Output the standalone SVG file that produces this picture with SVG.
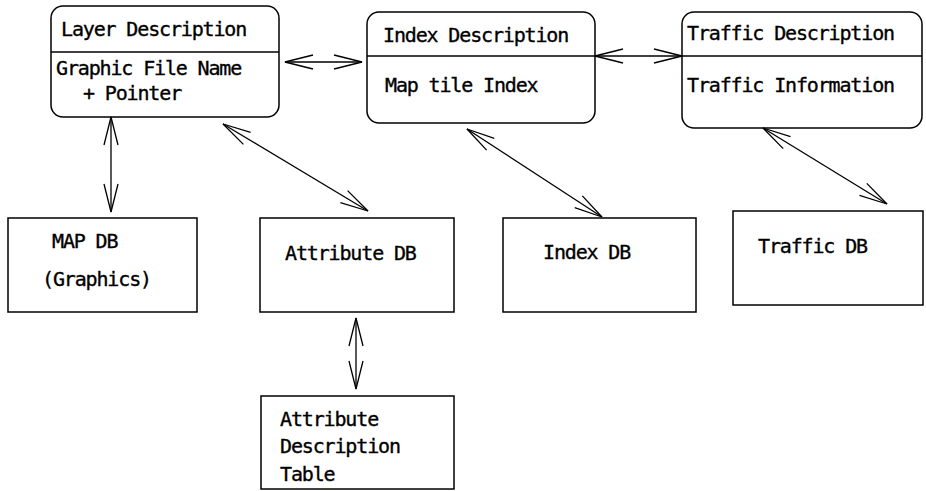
<svg xmlns="http://www.w3.org/2000/svg" width="926" height="491" viewBox="0 0 926 491">
  <style>
    .box { fill: #fff; stroke: #000; stroke-width: 1.5; }
    .div { stroke: #000; stroke-width: 1.5; }
    .lbl { font-family: "DejaVu Sans Mono", "Liberation Mono", monospace; font-size: 20px; letter-spacing: -1.15px; fill: #000; stroke: #000; stroke-width: 0.35; }
    .con { stroke: #000; stroke-width: 1.3; fill: none; marker-start: url(#arr); marker-end: url(#arr); }
  </style>
  <defs>
    <marker id="arr" viewBox="-30 -10 32 20" refX="0" refY="0" markerWidth="32" markerHeight="20" markerUnits="userSpaceOnUse" orient="auto-start-reverse">
      <path d="M-28,-7 L0,0 L-28,7" fill="none" stroke="#000" stroke-width="1.3"/>
    </marker>
  </defs>
  <rect width="926" height="491" fill="#fff"/>

  <!-- description records (rounded) -->
  <g id="layer-description">
    <rect class="box" x="51" y="6" width="228" height="111" rx="12"/>
    <line class="div" x1="51" y1="52" x2="279" y2="52"/>
    <text class="lbl" x="61" y="36">Layer Description</text>
    <text class="lbl" x="56" y="75">Graphic File Name</text>
    <text class="lbl" x="83" y="100">+ Pointer</text>
  </g>
  <g id="index-description">
    <rect class="box" x="367" y="12" width="228" height="111" rx="12"/>
    <line class="div" x1="367" y1="56" x2="595" y2="56"/>
    <text class="lbl" x="383" y="42">Index Description</text>
    <text class="lbl" x="385" y="92">Map tile Index</text>
  </g>
  <g id="traffic-description">
    <rect class="box" x="682" y="12" width="240" height="116" rx="12"/>
    <line class="div" x1="682" y1="56" x2="922" y2="56"/>
    <text class="lbl" x="687" y="40">Traffic Description</text>
    <text class="lbl" x="687" y="92">Traffic Information</text>
  </g>

  <!-- databases -->
  <g id="map-db">
    <rect class="box" x="8" y="218" width="189" height="94"/>
    <text class="lbl" x="52" y="248">MAP DB</text>
    <text class="lbl" x="42" y="286">(Graphics)</text>
  </g>
  <g id="attribute-db">
    <rect class="box" x="260" y="218" width="194" height="94"/>
    <text class="lbl" x="285" y="260">Attribute DB</text>
  </g>
  <g id="index-db">
    <rect class="box" x="503" y="218" width="193" height="94"/>
    <text class="lbl" x="543" y="259">Index DB</text>
  </g>
  <g id="traffic-db">
    <rect class="box" x="733" y="211" width="190" height="94"/>
    <text class="lbl" x="758" y="253">Traffic DB</text>
  </g>
  <g id="attribute-description-table">
    <rect class="box" x="261" y="396" width="193" height="93"/>
    <text class="lbl" x="280" y="426">Attribute</text>
    <text class="lbl" x="280" y="453">Description</text>
    <text class="lbl" x="280" y="481">Table</text>
  </g>

  <!-- two-way links -->
  <g id="connectors">
    <line class="con" x1="285" y1="62" x2="362" y2="62"/>
    <line class="con" x1="595" y1="56" x2="682" y2="56"/>
    <line class="con" x1="111" y1="117" x2="111" y2="212"/>
    <line class="con" x1="223" y1="124" x2="368" y2="211"/>
    <line class="con" x1="467" y1="129" x2="602" y2="217"/>
    <line class="con" x1="763" y1="128" x2="887" y2="204"/>
    <line class="con" x1="356" y1="318" x2="356" y2="389"/>
  </g>
</svg>
